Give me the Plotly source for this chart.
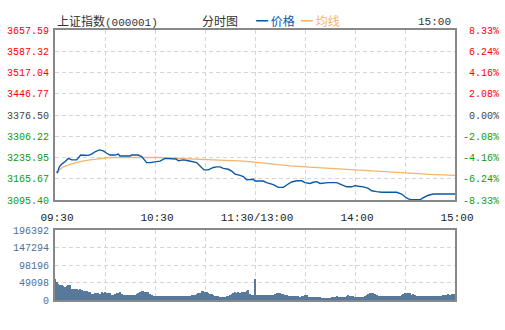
import plotly.graph_objects as go

# ---- data -------------------------------------------------------------
prev_close = 3376.50

# intraday price (minute offset from 09:30, trading minutes only)
price_min = [1, 1.4, 2.6, 4, 6, 8, 10, 13, 15.4, 18, 20, 22, 24, 26.6, 29, 31, 33, 36, 38, 39,
             45, 46, 50, 52, 53.4, 55, 57, 60, 63, 66, 69, 72.6, 74, 77, 80, 83, 85, 87, 89.4,
             92, 95, 97, 99, 101, 104, 106, 108, 111, 113, 115, 117, 119, 120, 125, 127, 129,
             131, 134, 137, 139, 142, 145, 148, 150, 153, 155, 157, 159, 164, 169, 172, 175,
             178, 180, 182, 185, 188, 190, 193, 196, 205, 208, 210, 212, 214, 219, 221, 224,
             227, 240]
price_val = [3189, 3185, 3205, 3214, 3222, 3233, 3228, 3228, 3244, 3244, 3243, 3247, 3255, 3261,
             3258, 3250, 3244, 3244, 3247, 3241, 3241, 3244, 3244, 3239, 3228, 3219, 3219, 3222,
             3224, 3233, 3231, 3231, 3225, 3228, 3225, 3222, 3219, 3208, 3195, 3195, 3203, 3205,
             3205, 3200, 3197, 3191, 3181, 3177, 3173, 3162, 3164, 3164, 3158, 3158, 3153, 3150,
             3146, 3137, 3137, 3145, 3155, 3159, 3159, 3153, 3150, 3154, 3156, 3150, 3153, 3153,
             3147, 3139, 3139, 3143, 3141, 3139, 3134, 3126, 3123, 3121, 3121, 3115, 3106, 3099,
             3096, 3096, 3103, 3111, 3115, 3115]

# running average price
avg_min = [1, 5, 9, 15, 21, 27, 33, 61, 77, 89, 101, 113, 121, 129, 135, 141, 155, 169, 185,
           199, 213, 225, 240]
avg_val = [3188, 3205, 3213, 3222, 3228, 3233, 3236, 3236, 3233, 3231, 3228, 3224, 3220, 3215,
           3212, 3208, 3203, 3199, 3192, 3188, 3184, 3180, 3177]

# per-minute volume (thousands of lots)
volume_k = [
    58, 51, 44, 42, 43, 40, 37, 39, 41, 42, 32, 30, 30, 30, 28, 32, 28, 26, 25, 24,
    22, 22, 18, 17, 20, 19, 19, 17, 22, 21, 22, 21, 19, 19, 14, 14, 17, 19, 21, 22,
    17, 15, 14, 14, 14, 14, 14, 14, 14, 17, 20, 22, 24, 24, 22, 22, 22, 17, 15, 12,
    12, 11, 12, 12, 11, 11, 12, 12, 11, 12, 11, 11, 12, 12, 11, 12, 12, 11, 12, 11,
    11, 12, 13, 14, 14, 16, 20, 21, 24, 26, 23, 23, 19, 18, 17, 13, 12, 11, 11, 8,
    9, 9, 9, 11, 12, 13, 16, 19, 22, 20, 22, 20, 22, 22, 22, 25, 28, 17, 15, 14,
    58, 15, 15, 14, 15, 14, 15, 15, 15, 15, 15, 15, 17, 19, 20, 19, 18, 17, 13, 13,
    12, 11, 11, 11, 11, 11, 10, 9, 11, 11, 15, 13, 9, 9, 9, 9, 9, 9, 9, 9,
    7, 7, 7, 7, 7, 7, 9, 9, 9, 11, 9, 9, 9, 9, 9, 12, 14, 11, 11, 11,
    9, 9, 9, 9, 9, 9, 12, 15, 17, 19, 21, 19, 17, 15, 12, 12, 12, 12, 12, 12,
    12, 11, 11, 11, 11, 11, 11, 11, 14, 17, 19, 21, 21, 19, 15, 17, 14, 11, 11, 11,
    11, 11, 11, 11, 11, 11, 11, 11, 11, 11, 11, 11, 11, 14, 13, 15, 17, 14, 17, 17,
    17,
]
volume = [v * 1000 for v in volume_k]
vol_min = list(range(len(volume)))

price_ticks = [3095.40, 3165.67, 3235.95, 3306.22, 3376.50, 3446.77, 3517.04, 3587.32, 3657.59]
pct_labels = ["-8.33%", "-6.24%", "-4.16%", "-2.08%", "0.00%", "2.08%", "4.16%", "6.24%", "8.33%"]
vol_ticks = [0, 49098, 98196, 147294, 196392]
time_ticks = [0, 30, 60, 90, 120, 150, 180, 210, 240]
time_labels = ["09:30", "", "10:30", "", "11:30/13:00", "", "14:00", "", "15:00"]

# ---- styling ----------------------------------------------------------
RED, GREEN, GREY = "#ff0000", "#119911", "#444444"
BLUE, ORANGE = "#0a58a8", "#f5b46e"
VOL_COLOR = "#56799c"
VOL_TEXT = "#4f7096"
GRID = "#d6d6d6"
FRAME = "#888888"
MONO = "Liberation Mono, DejaVu Sans Mono, monospace"
CJK = "Noto Sans CJK SC, sans-serif"


def tone(p):
    if p > prev_close + 0.001:
        return RED
    if p < prev_close - 0.001:
        return GREEN
    return GREY


price_text = [f"<span style='color:{tone(p)}'>{p:.2f}</span>" for p in price_ticks]
pct_text = [f"<span style='color:{tone(p)}'>{lab.rjust(6, chr(160))}</span>"
            for p, lab in zip(price_ticks, pct_labels)]
pct_ticks = [(p / prev_close - 1) * 100 for p in price_ticks]

fig = go.Figure()

fig.add_trace(go.Scatter(x=avg_min, y=avg_val, mode="lines",
                         line=dict(color=ORANGE, width=1.3), name="均线",
                         xaxis="x", yaxis="y"))
fig.add_trace(go.Scatter(x=price_min, y=price_val, mode="lines",
                         line=dict(color=BLUE, width=1.4), name="价格",
                         xaxis="x", yaxis="y"))
# percent companion axis on the right
fig.add_trace(go.Scatter(x=price_min, y=[(p / prev_close - 1) * 100 for p in price_val],
                         mode="lines", line=dict(width=0), opacity=0, hoverinfo="skip",
                         xaxis="x", yaxis="y2"))
fig.add_trace(go.Bar(x=vol_min, y=volume, marker=dict(color=VOL_COLOR, line=dict(width=0)),
                     width=0.75, xaxis="x2", yaxis="y3", name="成交量"))

L, R, T, B = 55, 50, 30, 30
W, H = 505, 330
ph = H - T - B


def py(pix):
    return (H - B - pix) / ph


def px(pix):
    return (pix - L) / (W - L - R)


axis_common = dict(showline=True, linecolor=FRAME, linewidth=2, mirror=True,
                   showgrid=True, gridcolor=GRID, griddash="4px,3px", gridwidth=1,
                   zeroline=False, ticks="", fixedrange=True, automargin=False)

fig.update_layout(
    width=W, height=H,
    margin=dict(l=L, r=R, t=T, b=B, autoexpand=False),
    paper_bgcolor="white", plot_bgcolor="white",
    showlegend=False, bargap=0,
    font=dict(family=MONO, size=10, color="#333333"),
    xaxis=dict(domain=[0, 1], anchor="y", range=[0, 240], tickvals=time_ticks,
               ticktext=time_labels, tickfont=dict(family=MONO, size=11, color="#222222"),
               ticklabelstandoff=6, ticklabelshift=2, **axis_common),
    yaxis=dict(domain=[py(200), 1], anchor="x", range=[price_ticks[0], price_ticks[-1]],
               tickvals=price_ticks, ticktext=price_text,
               tickfont=dict(family=MONO, size=10), ticklabelstandoff=2, **axis_common),
    yaxis2=dict(overlaying="y", side="right", anchor="x",
                range=[pct_ticks[0], pct_ticks[-1]], tickvals=pct_ticks, ticktext=pct_text,
                tickfont=dict(family=MONO, size=10), ticklabelstandoff=7, automargin=False,
                showgrid=False, zeroline=False, showline=False, ticks="", fixedrange=True),
    xaxis2=dict(domain=[0, 1], anchor="y3", range=[0, 240], tickvals=time_ticks,
                showticklabels=False, **axis_common),
    yaxis3=dict(domain=[0, py(230)], anchor="x2", range=[0, vol_ticks[-1]],
                tickvals=vol_ticks, ticktext=[str(v) for v in vol_ticks],
                tickfont=dict(family=MONO, size=10, color=VOL_TEXT), ticklabelstandoff=2,
                **axis_common),
)

# header line: title, chart type, legend keys and closing time
header = [
    (55, "上证指数<span style='font-family:Liberation Mono;font-size:11px'>(000001)</span>",
     "#333333"),
    (200, "分时图", "#333333"),
    (254, f"<span style='color:{BLUE}'><b>━</b> 价格</span>", BLUE),
    (299, f"<span style='color:{ORANGE}'><b>━</b> 均线</span>", ORANGE),
]
for x0, txt, col in header:
    fig.add_annotation(x=px(x0), y=py(20), xref="paper", yref="paper", text=txt,
                       showarrow=False, xanchor="left", yanchor="middle",
                       font=dict(family=CJK, size=12, color=col))
fig.add_annotation(x=px(453), y=py(22), xref="paper", yref="paper", text="15:00",
                   showarrow=False, xanchor="right", yanchor="middle",
                   font=dict(family=MONO, size=11, color="#333333"))

fig.write_html("out.html")
